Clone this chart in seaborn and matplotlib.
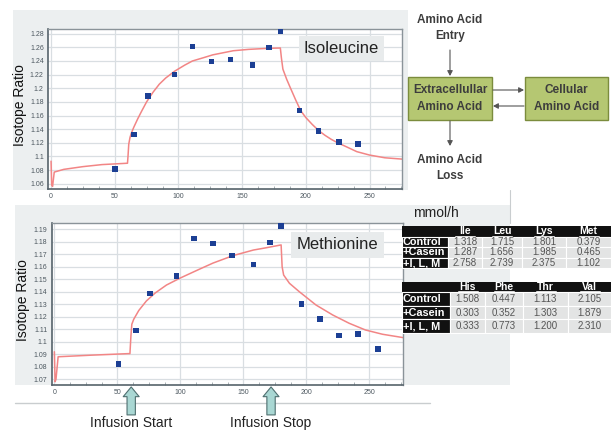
import numpy as np
import pandas as pd
import matplotlib
matplotlib.use("Agg")
import matplotlib.pyplot as plt
import seaborn as sns
from matplotlib.patches import Rectangle, FancyArrowPatch
from matplotlib.ticker import FuncFormatter, MultipleLocator

# ---------------- data ----------------
ile_time = [50, 65, 76, 97, 111, 126, 141, 158, 171, 180, 195, 210, 226, 241]
ile_ratio = [1.0815, 1.132, 1.189, 1.220, 1.261, 1.239, 1.242, 1.234, 1.2595,
             1.2835, 1.1675, 1.1375, 1.121, 1.118]

ile_fit_time = [0, 0.5, 1.2, 2.5, 10, 25, 40, 60, 60.4, 61, 62, 63, 65, 68, 71,
                75, 80, 85, 90, 97, 105, 111, 120, 127, 135, 143, 155, 170, 180,
                180.8, 182, 185, 188, 192, 196, 200, 205, 210, 215, 220, 225,
                232, 240, 250, 262, 276]
ile_fit_ratio = [1.093, 1.058, 1.056, 1.077, 1.081, 1.085, 1.088, 1.090, 1.100,
                 1.118, 1.128, 1.134, 1.143, 1.155, 1.166, 1.180, 1.194, 1.206,
                 1.215, 1.225, 1.234, 1.240, 1.245, 1.249, 1.252, 1.255, 1.257,
                 1.2585, 1.259, 1.245, 1.228, 1.213, 1.200, 1.183, 1.167, 1.157,
                 1.147, 1.138, 1.131, 1.125, 1.120, 1.114, 1.107, 1.102, 1.098,
                 1.096]

met_time = [51, 65, 76, 97, 111, 126, 141, 158, 171, 180, 196, 211, 226, 241, 257]
met_ratio = [1.082, 1.109, 1.1388, 1.1526, 1.1828, 1.1785, 1.1689, 1.1617,
             1.1796, 1.1926, 1.130, 1.118, 1.105, 1.106, 1.094]

met_fit_time = [0, 0.6, 1.3, 3, 30, 58.6, 60, 60.8, 61.5, 63, 67, 73, 80, 89,
                99.5, 115, 126, 142, 158, 168, 180, 180.8, 182, 186.6, 194.5,
                207.7, 221, 234, 247, 260.5, 277]
met_fit_ratio = [1.092, 1.068, 1.070, 1.088, 1.0893, 1.0905, 1.0905, 1.105,
                 1.114, 1.118, 1.125, 1.1326, 1.139, 1.1454, 1.1508, 1.158,
                 1.163, 1.169, 1.1734, 1.1752, 1.1775, 1.160, 1.1534, 1.1468,
                 1.140, 1.1294, 1.1214, 1.1148, 1.1094, 1.106, 1.1033]

ile_yticks = [1.06, 1.08, 1.10, 1.12, 1.14, 1.16, 1.18, 1.20, 1.22, 1.24, 1.26, 1.28]
met_yticks = [1.07, 1.08, 1.09, 1.10, 1.11, 1.12, 1.13, 1.14, 1.15, 1.16, 1.17, 1.18, 1.19]
x_ticks = [0, 50, 100, 150, 200, 250]

infusion_labels = ["Infusion Start", "Infusion Stop"]
infusion_marks = [61, 172]

table_unit = "mmol/h"
row_labels = ["Control", "+Casein", "+I, L, M"]
cols_1 = ["Ile", "Leu", "Lys", "Met"]
vals_1 = [["1.318", "1.715", "1.801", "0.379"],
          ["1.287", "1.656", "1.985", "0.465"],
          ["2.758", "2.739", "2.375", "1.102"]]
cols_2 = ["His", "Phe", "Thr", "Val"]
vals_2 = [["1.508", "0.447", "1.113", "2.105"],
          ["0.303", "0.352", "1.303", "1.879"],
          ["0.333", "0.773", "1.200", "2.310"]]

# ---------------- style ----------------
sns.set_theme(style="white")
plt.rcParams['font.family'] = ['Liberation Sans', 'DejaVu Sans']

W, H = 611, 430
fig = plt.figure(figsize=(W / 100, H / 100), dpi=100)
fig.patch.set_facecolor("white")

def frac_rect(x0, y0, x1, y1):
    return [x0 / W, 1 - y1 / H, (x1 - x0) / W, (y1 - y0) / H]

# background axes (pixel coords, y downward)
bg = fig.add_axes([0, 0, 1, 1], zorder=0)
bg.set_xlim(0, W); bg.set_ylim(H, 0); bg.axis("off")
panel_col = "#eceff0"
bg.add_patch(Rectangle((13, 10), 395, 180, fc=panel_col, ec="none"))
bg.add_patch(Rectangle((15, 205), 495, 180, fc=panel_col, ec="none"))
bg.plot([15, 430], [403, 403], color="#c9cdcf", lw=1)
bg.plot([510, 510], [190, 223], color="#c9cdcf", lw=0.8)

pt_col = "#1c3f94"
fit_col = "#f28585"
spine_col = "#56636b"
grid_col = "#d9dee2"
tick_col = "#4d5860"

def style_axes(ax, yticks, xlim, ylim):
    ax.set_facecolor("white")
    ax.set_xlim(*xlim); ax.set_ylim(*ylim)
    ax.set_xticks(x_ticks); ax.set_yticks(yticks)
    ax.xaxis.set_minor_locator(MultipleLocator(12.5))
    ax.yaxis.set_major_formatter(FuncFormatter(lambda v, p: f"{round(v, 2):g}"))
    ax.grid(True, which="major", color=grid_col, lw=0.9)
    ax.tick_params(axis="both", which="major", labelsize=5, labelcolor=tick_col,
                   length=0, pad=3)
    ax.tick_params(axis="x", which="minor", direction="in", length=2.5,
                   color="#9aa3a8", width=0.6, bottom=True)
    for s in ax.spines.values():
        s.set_visible(True); s.set_color(spine_col); s.set_linewidth(1.2)
    ax.spines["top"].set_color("#8a9399"); ax.spines["right"].set_color("#8a9399")
    ax.spines["top"].set_linewidth(1.0); ax.spines["right"].set_linewidth(1.0)
    ax.set_xlabel(""); ax.set_ylabel("")

# ---------------- top chart ----------------
ax1 = fig.add_axes(frac_rect(48, 29, 402, 189), zorder=2)
sns.lineplot(x=ile_fit_time, y=ile_fit_ratio, ax=ax1, color=fit_col, lw=1.1,
             estimator=None, sort=False)
sns.scatterplot(x=ile_time, y=ile_ratio, ax=ax1, marker="s", s=16, color=pt_col,
                edgecolor="none", zorder=3)
style_axes(ax1, ile_yticks, (-2.4, 275.5), (1.0522, 1.2869))
ax1.text(0.829, 0.878, "Isoleucine", transform=ax1.transAxes, ha="center",
         va="center", fontsize=12, color="#222222",
         bbox=dict(boxstyle="square,pad=0.32", fc="#e8ebec", ec="none"))
fig.text(20 / W, 1 - 105 / H, "Isotope Ratio", rotation=90, ha="center",
         va="center", fontsize=10, color="#111111")

# ---------------- bottom chart ----------------
ax2 = fig.add_axes(frac_rect(51.7, 223.3, 402.7, 385), zorder=2)
sns.lineplot(x=met_fit_time, y=met_fit_ratio, ax=ax2, color=fit_col, lw=1.1,
             estimator=None, sort=False)
sns.scatterplot(x=met_time, y=met_ratio, ax=ax2, marker="s", s=16, color=pt_col,
                edgecolor="none", zorder=3)
style_axes(ax2, met_yticks, (-2.1, 276.5), (1.0654, 1.1948))
ax2.text(0.814, 0.866, "Methionine", transform=ax2.transAxes, ha="center",
         va="center", fontsize=12, color="#222222",
         bbox=dict(boxstyle="square,pad=0.32", fc="#e8ebec", ec="none"))
fig.text(23 / W, 1 - 300.5 / H, "Isotope Ratio", rotation=90, ha="center",
         va="center", fontsize=10, color="#111111")

xt = ax2.get_xaxis_transform()
for lab, t in zip(infusion_labels, infusion_marks):
    ax2.annotate("", xy=(t, -0.012), xycoords=xt, xytext=(t, -0.185),
                 textcoords=xt, annotation_clip=False,
                 arrowprops=dict(arrowstyle="simple,head_length=0.7,head_width=1.15,tail_width=0.6",
                                 fc="#a9d7d3", ec="#4f6f70", lw=0.8,
                                 mutation_scale=10, shrinkA=0, shrinkB=0))
    ax2.text(t, -0.238, lab, transform=xt, ha="center", va="center",
             fontsize=10, color="#222222", clip_on=False)

# ---------------- overlay: diagram + table ----------------
ov = fig.add_axes([0, 0, 1, 1], zorder=5)
ov.set_xlim(0, W); ov.set_ylim(H, 0); ov.axis("off")
ov.patch.set_alpha(0)

dtxt = dict(ha="center", va="center", fontsize=8.5, fontweight="bold",
            color="#3d3d3d", linespacing=1.45)
ov.text(450, 28, "Amino Acid\nEntry", **dtxt)
ov.text(450, 168, "Amino Acid\nLoss", **dtxt)
green_fc, green_ec = "#b5c772", "#7b8c3d"
ov.add_patch(Rectangle((408, 77), 84, 43, fc=green_fc, ec=green_ec, lw=1.0))
ov.add_patch(Rectangle((525, 77), 83, 43, fc=green_fc, ec=green_ec, lw=1.0))
ov.text(450, 98.5, "Extracellullar\nAmino Acid", **dtxt)
ov.text(566.5, 98.5, "Cellular\nAmino Acid", **dtxt)

def arr(p0, p1):
    ov.add_patch(FancyArrowPatch(p0, p1, arrowstyle="-|>,head_length=3,head_width=1.6",
                                 color="#555555", lw=0.8, mutation_scale=1,
                                 shrinkA=0, shrinkB=0))
arr((450, 50), (450, 76))
arr((450, 121), (450, 146))
arr((493, 90), (524, 90))
arr((524, 106), (493, 106))

# table
ov.text(413, 213, table_unit, ha="left", va="center", fontsize=10, color="#222222")

def draw_table(top, header_h, row_h, label_x0, col_edges, cols, vals):
    # header row
    ov.add_patch(Rectangle((label_x0, top), col_edges[-1] - label_x0, header_h,
                           fc="#111111", ec="none"))
    for j, c in enumerate(cols):
        cx = (col_edges[j] + col_edges[j + 1]) / 2
        ov.text(cx, top + header_h / 2, c, ha="center", va="center", fontsize=7.5,
                fontweight="bold", color="white")
        ov.plot([cx - 10, cx + 10], [top + header_h - 0.8] * 2, color="white", lw=0.6)
    for i, rl in enumerate(row_labels):
        y0 = top + header_h + i * row_h
        ov.add_patch(Rectangle((label_x0, y0), col_edges[0] - label_x0, row_h,
                               fc="#111111", ec="white", lw=0.8))
        ov.text(label_x0 + 1, y0 + row_h / 2, rl, ha="left", va="center",
                fontsize=7.8, fontweight="bold", color="white")
        for j in range(len(cols)):
            ov.add_patch(Rectangle((col_edges[j], y0), col_edges[j + 1] - col_edges[j],
                                   row_h, fc="#e3e4e4", ec="white", lw=0.8))
            cx = (col_edges[j] + col_edges[j + 1]) / 2
            ov.text(cx, y0 + row_h / 2, vals[i][j], ha="center", va="center",
                    fontsize=7, color="#555555")

draw_table(226, 10.5, 10.6, 401.7, [448, 482, 522, 566, 611], cols_1, vals_1)
draw_table(281.7, 10.3, 13.7, 401.7, [450, 485, 523, 568, 611], cols_2, vals_2)

fig.savefig("out.png", dpi=100, facecolor="white")
